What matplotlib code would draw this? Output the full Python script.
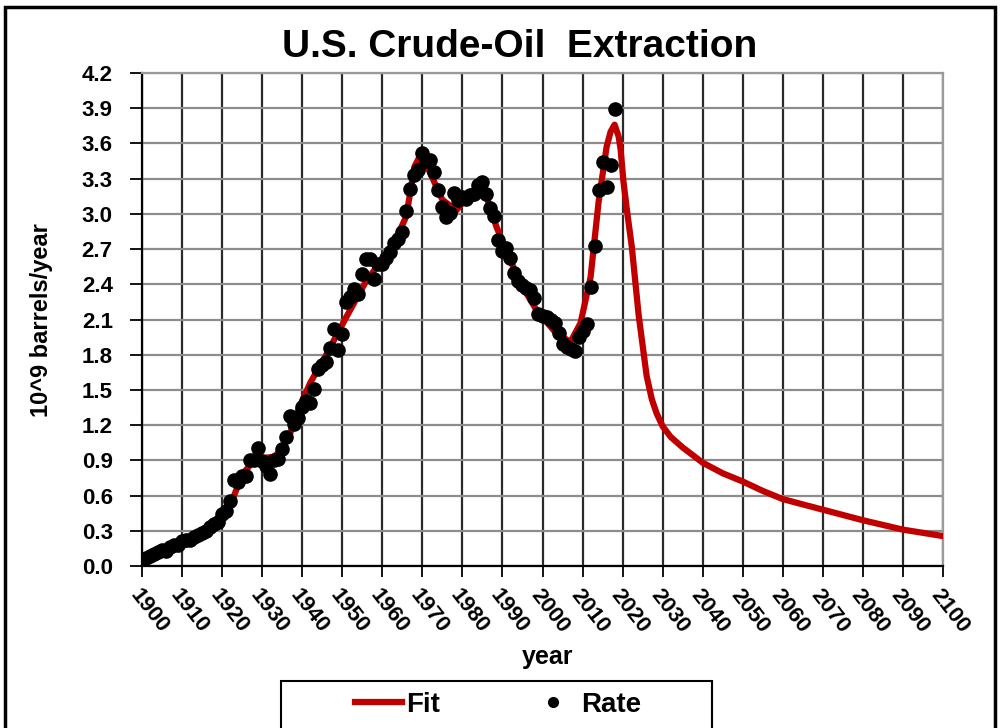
#! /usr/bin/env python3

"""
U.S. crude-oil extraction: yearly rate (dots) and the fitted curve (red line).
"""
import matplotlib
matplotlib.use('Agg')
import matplotlib.pyplot as plt
from matplotlib.patches import Rectangle
from matplotlib.lines import Line2D

plt.rcParams['font.family'] = ['Liberation Sans', 'DejaVu Sans']
plt.rcParams['font.weight'] = 'bold'

# yearly extraction rate, 10^9 barrels/year
rate_years = list(range(1900, 2019))
rate = [
    0.064, 0.069, 0.089, 0.100, 0.117, 0.135, 0.126, 0.166, 0.179, 0.183,
    0.210, 0.220, 0.223, 0.248, 0.266, 0.281, 0.301, 0.335, 0.356, 0.378,
    0.443, 0.472, 0.558, 0.732, 0.714, 0.764, 0.771, 0.901, 0.901, 1.007,
    0.898, 0.851, 0.785, 0.906, 0.908, 0.997, 1.100, 1.279, 1.214, 1.265,
    1.353, 1.402, 1.387, 1.506, 1.678, 1.714, 1.734, 1.857, 2.020, 1.842,
    1.974, 2.248, 2.290, 2.357, 2.315, 2.484, 2.617, 2.617, 2.449, 2.575,
    2.575, 2.622, 2.676, 2.753, 2.787, 2.849, 3.028, 3.216, 3.329, 3.372,
    3.517, 3.454, 3.455, 3.361, 3.203, 3.057, 2.976, 3.009, 3.178, 3.121,
    3.146, 3.129, 3.157, 3.171, 3.250, 3.275, 3.168, 3.047, 2.979, 2.779,
    2.685, 2.707, 2.625, 2.499, 2.431, 2.394, 2.366, 2.355, 2.282, 2.147,
    2.131, 2.118, 2.097, 2.073, 1.983, 1.890, 1.862, 1.848, 1.830, 1.953,
    1.999, 2.063, 2.373, 2.729, 3.204, 3.442, 3.232, 3.413, 3.890,
]

# fitted curve
fit_years = [
    1900, 1905, 1910, 1915, 1918, 1920, 1923, 1925, 1928, 1930,
    1933, 1935, 1937, 1939, 1942, 1946, 1951, 1956, 1958, 1962,
    1966, 1968, 1969.5, 1971, 1975, 1978.5, 1982, 1984.5, 1986, 1988.5,
    1992, 1995, 1998.5, 2003.5, 2007, 2009.5, 2012, 2014, 2016, 2017,
    2018, 2019, 2019.5, 2020.2, 2021.2, 2022.3, 2024, 2026, 2027.3,
    2028.5, 2030, 2032, 2035, 2040, 2045, 2050, 2055, 2060, 2070, 2080,
    2090, 2100,
]
fit = [
    0.05, 0.11, 0.18, 0.26, 0.35, 0.44, 0.60, 0.78, 0.90, 0.92,
    0.93, 1.00, 1.13, 1.33, 1.56, 1.80, 2.12, 2.43, 2.52, 2.68,
    2.98, 3.40, 3.50, 3.42, 3.12, 3.03, 3.18, 3.24, 3.15, 2.89,
    2.60, 2.38, 2.18, 1.98, 1.91, 2.07, 2.46, 3.10, 3.57, 3.70,
    3.76, 3.66, 3.55, 3.28, 3.00, 2.72, 2.14, 1.62, 1.42,
    1.30, 1.19, 1.10, 1.01, 0.88, 0.79, 0.72, 0.64, 0.57, 0.48, 0.39,
    0.31, 0.255,
]

y_ticks = [0.0, 0.3, 0.6, 0.9, 1.2, 1.5, 1.8, 2.1, 2.4, 2.7, 3.0, 3.3, 3.6,
           3.9, 4.2]
x_ticks = list(range(1900, 2101, 10))

fit_color = '#C00000'

fig = plt.figure(figsize=(10, 7.28), dpi=100)
ax = fig.add_axes([0.142, 0.2225, 0.801, 0.6772])

ax.plot(fit_years, fit, color=fit_color, lw=4.5, zorder=3,
        solid_joinstyle='round')
ax.plot(rate_years, rate, 'o', color='black', ms=9.5, zorder=4)

ax.set_xlim(1900, 2100)
ax.set_ylim(0, 4.2)
ax.set_yticks(y_ticks)
ax.set_yticklabels(['%.1f' % v for v in y_ticks], fontsize=16,
                   fontweight='bold')
ax.set_xticks(x_ticks)
ax.set_xticklabels([str(v) for v in x_ticks], fontsize=16,
                   fontweight='bold', rotation=-52, ha='left', va='top',
                   rotation_mode='anchor')
ax.tick_params(axis='y', direction='out', length=9, width=1.3, pad=12)
ax.tick_params(axis='x', direction='out', length=8, width=1.3, pad=6)

ax.xaxis.grid(True, color='#2a2a2a', lw=1.6)
ax.yaxis.grid(True, color='#8c8c8c', lw=1.6)
ax.set_axisbelow(True)
for side in ['left', 'bottom']:
    ax.spines[side].set_color('black')
    ax.spines[side].set_linewidth(1.6)
for side in ['top', 'right']:
    ax.spines[side].set_color('#9a9a9a')
    ax.spines[side].set_linewidth(1.6)

fig.text(0.52, 0.935, 'U.S. Crude-Oil  Extraction', ha='center',
         va='center', fontsize=28, fontweight='bold')
fig.text(0.042, 0.561, '10^9 barrels/year', rotation=90, ha='center',
         va='center', fontsize=17, fontweight='bold')
fig.text(0.548, 0.0975, 'year', ha='center', va='center', fontsize=18,
         fontweight='bold')

# outer chart border and legend box
fig.patches.append(Rectangle((0.005, -0.1), 0.99, 1.09,
                             transform=fig.transFigure, fill=False,
                             edgecolor='black', lw=2.5))
fig.patches.append(Rectangle((0.281, -0.02), 0.431, 0.084,
                             transform=fig.transFigure, fill=False,
                             edgecolor='black', lw=1.5))

handles = [Line2D([], [], color=fit_color, lw=4.5),
           Line2D([], [], ls='none', marker='o', color='black', ms=7)]
fig.legend(handles, ['Fit', 'Rate'], loc='center',
           bbox_to_anchor=(0.498, 0.032), ncol=2, frameon=False,
           prop={'size': 20, 'weight': 'bold'}, handlelength=1.7,
           handletextpad=0.15, columnspacing=3.2)

fig.savefig('out.png', dpi=100)
